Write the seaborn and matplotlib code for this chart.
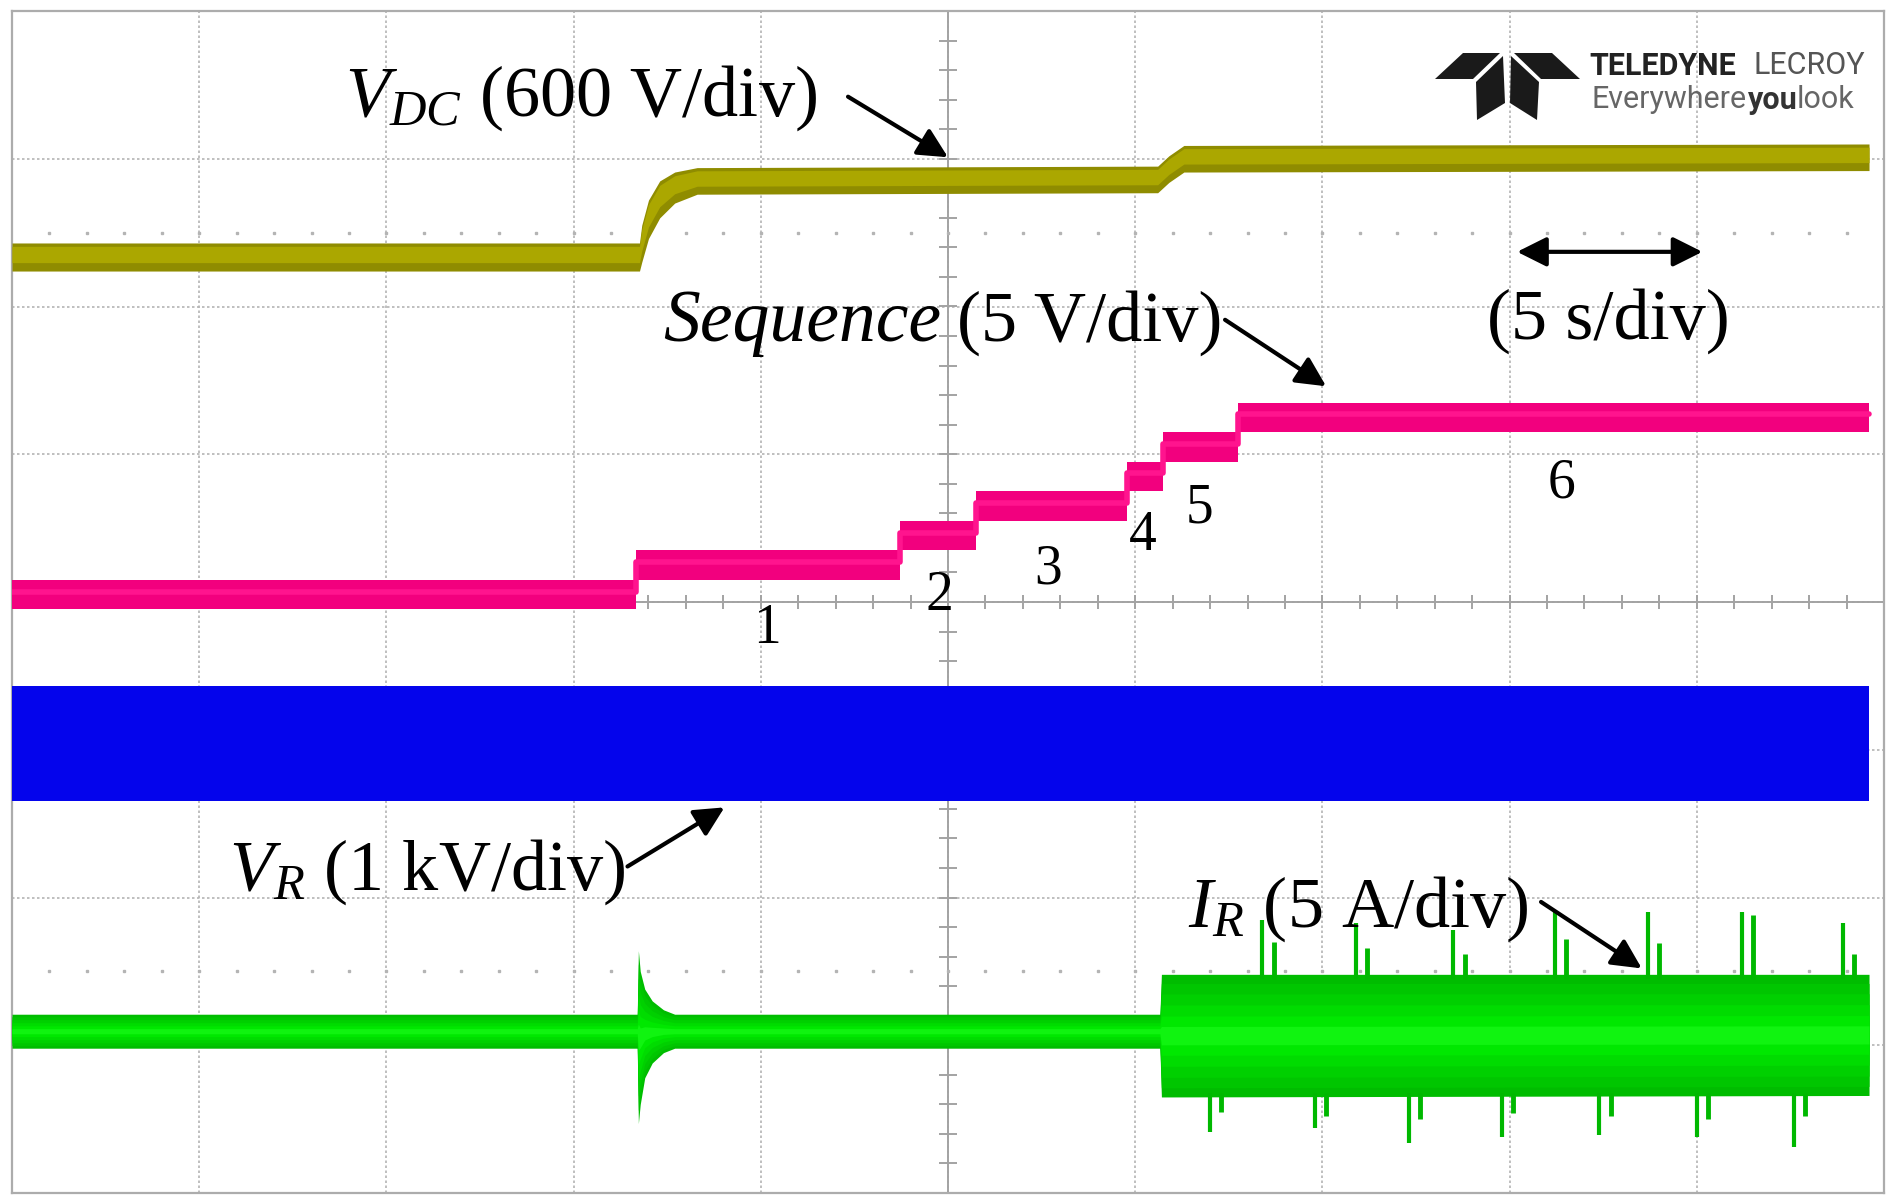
import numpy as np
import matplotlib
matplotlib.use("Agg")
import matplotlib.pyplot as plt
from matplotlib.patches import Polygon
import seaborn as sns

# screen: 10 div x 5 s/div across, 8 div high (y in divisions)
t_end = 49.6

# V_DC band (div)
vdc_t = [0, 16.76, 16.82, 17.0, 17.3, 17.7, 18.3, 30.6, 30.9, 31.3, t_end]
vdc_lo = [6.24, 6.24, 6.30, 6.46, 6.60, 6.70, 6.76, 6.77, 6.84, 6.91, 6.92]
vdc_hi = [6.43, 6.43, 6.55, 6.72, 6.85, 6.91, 6.94, 6.95, 7.02, 7.09, 7.10]

# sequence steps 0..6
seq_t = [0, 16.67, 23.72, 25.76, 29.77, 30.74, 32.75]
seq_level = [4.05, 4.25, 4.45, 4.65, 4.85, 5.05, 5.25]
seq_half = 0.1
seq_labels = ["1", "2", "3", "4", "5", "6"]
seq_label_t = [20.16, 24.76, 27.67, 30.19, 31.72, 41.39]
seq_label_y = [3.82, 4.04, 4.22, 4.45, 4.63, 4.80]

# V_R band
vr_lo, vr_hi = 2.65, 3.43

# I_R envelope
ir_t = [0, 16.70, 16.73, 16.78, 16.9, 17.1, 17.4, 17.7, 30.66, 30.70, t_end]
ir_lo = [0.98, 0.98, 0.47, 0.60, 0.78, 0.88, 0.95, 0.98, 0.98, 0.65, 0.66]
ir_hi = [1.21, 1.21, 1.64, 1.50, 1.38, 1.30, 1.24, 1.21, 1.21, 1.48, 1.48]
ir_up_t = [33.4, 35.9, 38.5, 41.2, 43.7, 46.2, 48.9]
ir_up_tip = [1.85, 1.83, 1.78, 1.90, 1.90, 1.90, 1.83]
ir_up_shoulder = [1.70, 1.66, 1.62, 1.72, 1.69, 1.88, 1.62]
ir_dn_t = [32.0, 34.8, 37.3, 39.8, 42.4, 45.0, 47.6]
ir_dn_tip = [0.41, 0.44, 0.34, 0.38, 0.39, 0.38, 0.31]
ir_dn_shoulder = [0.55, 0.52, 0.50, 0.54, 0.52, 0.50, 0.52]

sns.set_theme(style="white")
plt.rcParams["font.family"] = ["Liberation Serif", "DejaVu Serif"]
plt.rcParams["text.color"] = "black"
plt.rcParams["mathtext.fontset"] = "custom"
plt.rcParams["mathtext.rm"] = "Liberation Serif"
plt.rcParams["mathtext.it"] = "Liberation Serif:italic"

fig = plt.figure(figsize=(19, 12.04), dpi=100)
ax = fig.add_axes([12 / 1900, 11 / 1204, 1872 / 1900, 1182 / 1204])
ax.set_xlim(0, 50)
ax.set_ylim(0, 8)
ax.set_xticks(np.arange(0, 51, 5))
ax.set_yticks(np.arange(0, 9, 1))
ax.tick_params(length=0, labelbottom=False, labelleft=False)
ax.grid(True, color="#b4b4b4", linestyle=(0, (1.5, 1.5)), linewidth=1.2)
for s in ax.spines.values():
    s.set_visible(True)
    s.set_color("#acacac")
    s.set_linewidth(1.6)

# centre cross with minor ticks
grey = "#a3a3a3"
ax.axvline(25, color=grey, lw=1.4, zorder=1)
ax.axhline(4, color=grey, lw=1.4, zorder=1)
minor_t = np.arange(1, 50, 1)
ax.vlines(minor_t, 3.95, 4.05, color=grey, lw=1.4, zorder=1)
ax.hlines(np.arange(0.2, 8, 0.2), 24.75, 25.25, color=grey, lw=1.4, zorder=1)
for yd in (1.5, 6.5):
    ax.plot(minor_t, np.full(minor_t.size, yd), ls="none", marker="s", ms=2,
            color="#b4b4b4", zorder=1)

# V_DC
lo, hi = np.array(vdc_lo), np.array(vdc_hi)
ax.fill_between(vdc_t, lo, hi, color="#8f8c00", lw=0, zorder=3)
ax.fill_between(vdc_t, lo + 0.3 * (hi - lo), hi - 0.12 * (hi - lo), color="#aba700", lw=0, zorder=3)

# Sequence
seq_x = seq_t + [t_end]
seq_y = np.array(seq_level + [seq_level[-1]])
ax.fill_between(seq_x, seq_y - seq_half, seq_y + seq_half, step="post", color="#f2007e", lw=0, zorder=3)
sns.lineplot(x=seq_x, y=seq_y + 0.02, drawstyle="steps-post", color="#ff148e", lw=4,
             estimator=None, sort=False, ax=ax, zorder=3)

# V_R
ax.fill_between([0, t_end], vr_lo, vr_hi, color="#0404ec", lw=0, zorder=3)

# I_R
lo, hi = np.array(ir_lo), np.array(ir_hi)
mid = (lo + hi) / 2
shades = [(1.0, "#00bc00"), (0.85, "#00c600"), (0.68, "#00d000"), (0.5, "#00dc00"),
          (0.32, "#00e800"), (0.15, "#10f410")]
for frac, col in shades:
    ax.fill_between(ir_t, mid - frac * (mid - lo), mid + frac * (hi - mid), color=col, lw=0, zorder=3)
ax.vlines(ir_up_t, 1.45, ir_up_tip, color="#00b800", lw=3, zorder=3)
ax.vlines(np.array(ir_up_t) + 0.3, 1.45, ir_up_shoulder, color="#00b800", lw=3.5, zorder=3)
ax.vlines(ir_dn_t, ir_dn_tip, 0.68, color="#00b800", lw=3, zorder=3)
ax.vlines(np.array(ir_dn_t) + 0.3, ir_dn_shoulder, 0.68, color="#00b800", lw=3.5, zorder=3)

# labels and arrows
fs = 52
ax.text(8.9, 7.41, r"$V_{DC}$ (600 V/div)", fontsize=fs, va="center", ha="left", zorder=5)
ax.text(17.4, 5.89, "Sequence", fontsize=fs + 1, style="italic", va="center", ha="left", zorder=5)
ax.text(25.25, 5.89, "(5 V/div)", fontsize=fs, va="center", ha="left", zorder=5)
ax.text(42.65, 5.9, "(5 s/div)", fontsize=fs, va="center", ha="center", zorder=5)
ax.text(5.8, 2.17, r"$V_R$ (1 kV/div)", fontsize=fs, va="center", ha="left", zorder=5)
ax.text(31.4, 1.92, r"$I_R$ (5 A/div)", fontsize=fs, va="center", ha="left", zorder=5)
for lab, tx, ty in zip(seq_labels, seq_label_t, seq_label_y):
    ax.text(tx, ty, lab, fontsize=40, va="center", ha="center", zorder=5)

arr = dict(arrowstyle="-|>", color="black", lw=3, mutation_scale=45, shrinkA=0, shrinkB=0)
ax.annotate("", xy=(25.0, 7.01), xytext=(22.33, 7.42), arrowprops=arr, zorder=6)
ax.annotate("", xy=(35.1, 5.46), xytext=(32.4, 5.91), arrowprops=arr, zorder=6)
ax.annotate("", xy=(19.03, 2.61), xytext=(16.44, 2.21), arrowprops=arr, zorder=6)
ax.annotate("", xy=(43.53, 1.52), xytext=(40.84, 1.97), arrowprops=arr, zorder=6)
ax.annotate("", xy=(45.15, 6.37), xytext=(40.2, 6.37),
            arrowprops=dict(arrowstyle="<|-|>", color="black", lw=3, mutation_scale=45,
                            shrinkA=0, shrinkB=0), zorder=6)

# logo
def px(x, y):
    return (x / 1900, 1 - y / 1204)

blades = [
    [(1435, 79), (1463, 53), (1500, 53), (1473, 79)],
    [(1476, 82), (1503, 56), (1505, 103), (1477, 120)],
    [(1580, 79), (1552, 53), (1514, 53), (1541, 79)],
    [(1539, 82), (1511, 56), (1510, 103), (1537, 120)],
]
for b in blades:
    fig.patches.append(Polygon([px(*p) for p in b], closed=True, transform=fig.transFigure,
                               facecolor="#1a1a1a", edgecolor="none"))
logo_font = ["Roboto", "DejaVu Sans"]
fig.text(*px(1589, 66), "TELEDYNE", family=logo_font, weight="bold", fontsize=22,
         color="#222222", va="center", ha="left")
fig.text(*px(1753, 66), "LECROY", family=logo_font, fontsize=22,
         color="#555555", va="center", ha="left")
fig.text(*px(1591, 100), "Everywhere", family=logo_font, fontsize=22,
         color="#666666", va="center", ha="left")
fig.text(*px(1748, 100), "you", family=logo_font, weight="bold", fontsize=22,
         color="#333333", va="center", ha="left")
fig.text(*px(1797, 100), "look", family=logo_font, fontsize=22,
         color="#666666", va="center", ha="left")

fig.savefig("out.png", dpi=100)
